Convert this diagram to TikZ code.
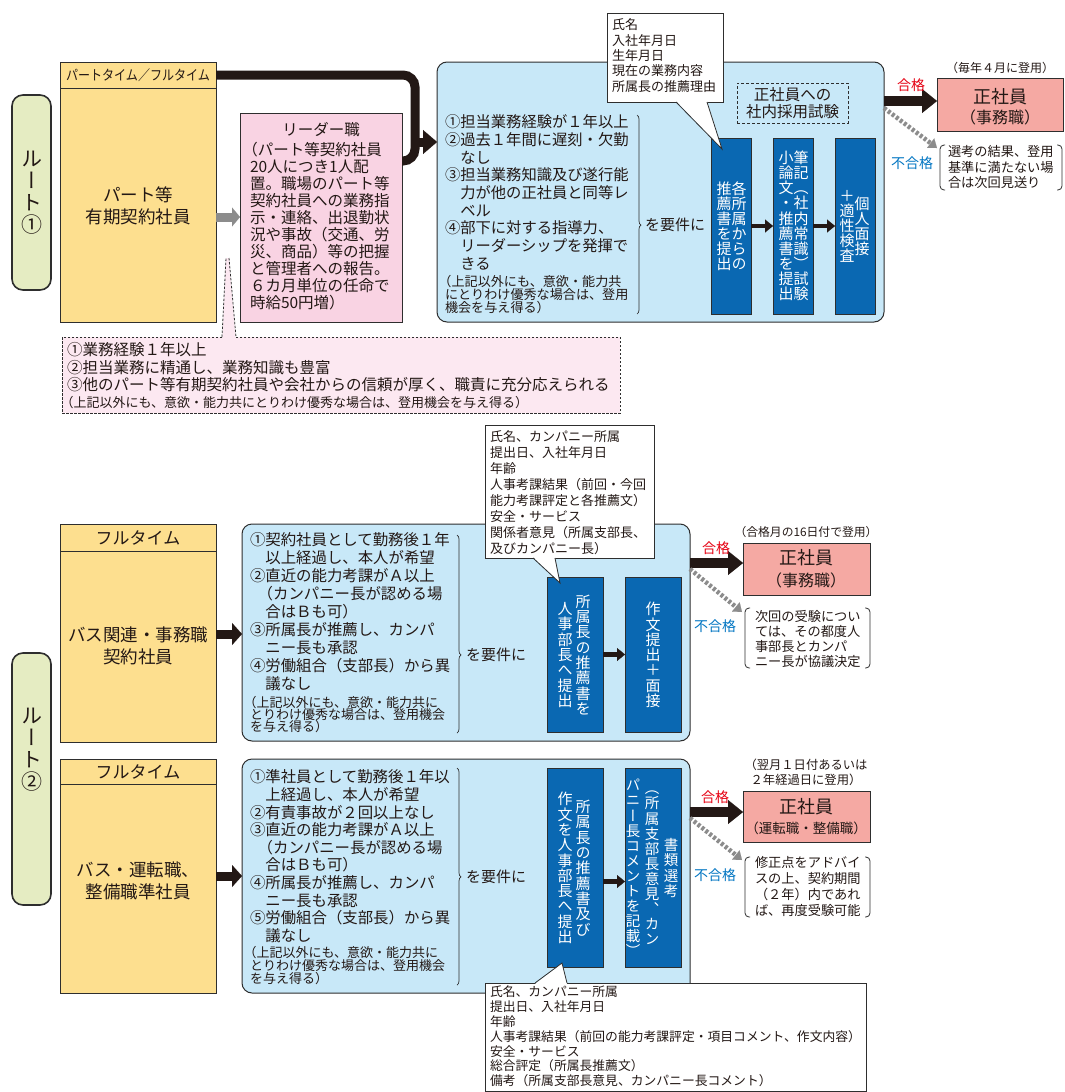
\documentclass[tikz,border=0pt]{standalone}
\usepackage{fontspec}
\usepackage{graphicx}
\setmainfont{Noto Sans CJK JP}
\newfontfamily\vjp[RawFeature=+vert]{Noto Sans CJK JP}
\usetikzlibrary{arrows.meta,decorations.pathreplacing}
\definecolor{ylw}{HTML}{FDDF8F}
\definecolor{pinkA}{HTML}{F9D3E3}
\definecolor{pinkL}{HTML}{FCE8F1}
\definecolor{lblue}{HTML}{C8E8F8}
\definecolor{dblue}{HTML}{0A68B2}
\definecolor{salm}{HTML}{F5A9A3}
\definecolor{grn}{HTML}{E5ECC2}
\definecolor{bd}{HTML}{2E2E2E}
\definecolor{blk}{HTML}{231815}
\definecolor{gryc}{HTML}{8C8C8C}
\definecolor{redc}{HTML}{E60012}
\definecolor{bluc}{HTML}{0075C2}
\makeatletter
\def\vc@end{}
\newcommand\vcol[2][1.0]{\vbox{\vjp\baselineskip=#1em\relax\lineskiplimit=-100pt\lineskip=0pt\vc@loop#2\vc@end}}
\def\vc@loop#1{\ifx#1\vc@end\else\hbox to 1em{\hss#1\hss}\expandafter\vc@loop\fi}
\makeatother
\newcommand\fs[2]{\fontsize{#1}{#2}\selectfont}
\newcommand\lp{\hspace*{-0.5em}（}
\newcommand\bx[6]{\node[#2,anchor=north west,minimum width={(#5)-(#3)},minimum height={(#6)-(#4)}] (#1) at (#3,#4) {};}
\begin{document}
\begin{tikzpicture}[x=1pt,y=-1pt,
  every node/.style={inner sep=0pt,outer sep=0pt,text=blk},
  ybox/.style={draw=bd,fill=ylw,line width=0.9pt},
  lbox/.style={draw=bd,fill=pinkA,line width=0.9pt},
  nbox/.style={draw=bd,fill=pinkL,line width=0.8pt,dash pattern=on 2.5pt off 1.5pt},
  ndash/.style={draw=bd,line width=0.8pt,dash pattern=on 2.5pt off 1.5pt},
  bbox/.style={draw=bd,fill=lblue,line width=1pt,rounded corners=10pt},
  dbb/.style={draw=bd,fill=dblue,line width=0.8pt},
  sbox/.style={draw=bd,fill=salm,line width=0.9pt},
  wbox/.style={draw=bd,fill=white,line width=0.8pt},
  cl/.style={draw=bd,line width=0.8pt},
  dbox/.style={draw=bd,line width=0.9pt,dash pattern=on 3pt off 2pt},
  rlab/.style={draw=bd,fill=grn,line width=1.6pt,rounded corners=11pt},
  vt/.style={text=white,font=\fs{15}{15}},
  blkl/.style={draw=blk,line width=9pt,rounded corners=12pt},
  blkarr/.style={draw=blk,line width=9pt,-{Triangle[length=14pt,width=24pt,line width=0.1pt]}},
  in2/.style={draw=blk,line width=9pt,-{Triangle[length=10pt,width=22pt,line width=0.1pt]}},
  gry/.style={draw=gryc,line width=9pt,-{Triangle[length=8pt,width=19pt,line width=0.1pt]}},
  pass/.style={draw=blk,line width=10pt,-{Triangle[length=15pt,width=24pt,line width=0.1pt]}},
  fail/.style={draw=gryc,line width=4.5pt,dash pattern=on 3pt off 2pt,-{Triangle[length=8pt,width=12pt,line width=0.1pt]}},
  sarr/.style={draw=blk,line width=4.5pt,-{Triangle[length=8pt,width=13pt,line width=0.1pt]}},
  brc/.style={draw=bd,line width=0.7pt,decorate,decoration={brace,amplitude=4pt,aspect=#1}},
  brk/.style={draw=bd,line width=0.8pt,rounded corners=4pt}
]
\useasboundingbox (0,0) rectangle (1065,1092);
\fill[white] (0,0) rectangle (1065,1092);

% ---------------- route labels
\bx{r1}{rlab}{12}{95}{51}{290}
\node[font=\fs{21}{21}] (r1t) at (r1) {\vcol[1.05]{ルート①}};
\bx{r2}{rlab}{12}{653}{51}{905}
\node[font=\fs{21}{21}] (r2t) at (31.5,750) {\vcol[1.05]{ルート②}};

% ================= ROUTE 1
\bx{y1}{ybox}{60}{62}{216}{322}
\bx{hdr1}{ybox}{60}{62}{216}{88}
\node[font=\fs{14}{14}] (hdr1t) at (hdr1) {\scalebox{0.86}[1]{パートタイム／フルタイム}};
\node[font=\fs{17.5}{22},align=center] (y1t) at (138,206) {パート等\\有期契約社員};

\bx{note1}{nbox}{62}{337}{620}{413}
\fill[pinkL] (222.5,338) -- (226,258) -- (229,258) -- (235.5,338) -- cycle;
\draw[ndash] (222,337) -- (226,258);
\draw[ndash] (229,258) -- (236,337);
\node[font=\fs{15.5}{17.5},align=left,anchor=north west] (note1a) at (67,342.7) {①業務経験１年以上\\②担当業務に精通し、業務知識も豊富\\③他のパート等有期契約社員や会社からの信頼が厚く、職責に充分応えられる};
\node[font=\fs{13}{13},anchor=north west] (note1b) at (67,396) {\lp 上記以外にも、意欲・能力共にとりわけ優秀な場合は、登用機会を与え得る）};

\bx{lead}{lbox}{240}{113}{402}{322}
\node[font=\fs{15.5}{15.5}] (leadh) at (321,130) {リーダー職};
\node[font=\fs{15.5}{16.9},align=left,anchor=north west] (leadt) at (250,142.7) {\lp パート等契約社員\\20人につき1人配\\置。職場のパート等\\契約社員への業務指\\示・連絡、出退勤状\\況や事故（交通、労\\災、商品）等の把握\\と管理者への報告。\\６カ月単位の任命で\\時給50円増）};

\bx{blue1}{bbox}{437}{62}{884}{322}
\draw[gry] (y1.east |- 0,217) -- (lead.west |- 0,217);
\coordinate (j1) at (415,161);
\coordinate (j2) at (415,142);
\draw[blkl] (hdr1.east) -| (j1) -- (lead.east |- j1);
\draw[blkarr] (j2) -- (blue1.west |- j2);

\node[font=\fs{15.3}{17.7},align=left,anchor=north west] (req1) at (445,114.8) {①担当業務経験が１年以上\\②過去１年間に遅刻・欠勤\\　なし\\③担当業務知識及び遂行能\\　力が他の正社員と同等レ\\　ベル\\④部下に対する指導力、\\　リーダーシップを発揮で\\　きる};
\node[font=\fs{13.1}{13.2},align=left,anchor=north west] (req1s) at (445,274.8) {\lp 上記以外にも、意欲・能力共\\にとりわけ優秀な場合は、登用\\機会を与え得る）};
\draw[brc=0.553] (637,115) -- (637,314);
\node[font=\fs{15}{15},anchor=west] (cond1) at (645,225) {を要件に};

\bx{a1}{dbb}{711}{138}{751}{314}
\bx{b1}{dbb}{773}{138}{813}{314}
\bx{c1}{dbb}{835}{138}{875}{314}
\node[vt] (a1l) at (724,226) {\vcol{推薦書を提出}};
\node[vt] (a1r) at (739,226) {\vcol{各所属からの}};
\node[vt] (b1l) at (786,226) {\vcol[1.01]{小論文・推薦書を提出}};
\node[vt] (b1r) at (801,226) {\vcol[1.01]{筆記（社内常識）試験}};
\node[vt] (c1l) at (847,226) {\vcol{＋適性検査}};
\node[vt] (c1r) at (862,226) {\vcol{個人面接}};
\draw[sarr] (a1) -- (b1);
\draw[sarr] (b1) -- (c1);

\bx{call1}{wbox}{607}{13}{723}{102}
\fill[white] (676,101) -- (722,149) -- (707,101) -- cycle;
\draw[cl] (676,102) -- (722,149) -- (707,102);
\node[font=\fs{13}{15.3},align=left,anchor=north west] (call1t) at (612,18.9) {氏名\\入社年月日\\生年月日\\現在の業務内容\\所属長の推薦理由};

\bx{test1}{dbox}{737}{83}{848}{123}
\node[font=\fs{15.5}{17},align=center] (test1t) at (test1) {正社員への\\社内採用試験};

\node[font=\fs{12}{12}] (when1) at (1000,68) {（毎年４月に登用）};
\bx{sal1}{sbox}{937}{78}{1063}{131}
\node[font=\fs{18}{18}] (sal1a) at (1000,97) {正社員};
\node[font=\fs{16}{16}] (sal1b) at (1000,117) {（事務職）};
\draw[pass] (blue1.east |- 0,101) -- (sal1.west |- 0,101);
\node[font=\fs{14}{14},text=redc] (ok1) at (911,85) {合格};
\coordinate (f1) at (937,148);
\draw[fail] (blue1.east |- 0,108) -- (f1);
\node[font=\fs{14}{14},text=bluc] (ng1) at (912,163) {不合格};
\draw[brk] (945,145) -- (940,145) -- (940,190) -- (945,190);
\draw[brk] (1057,145) -- (1062,145) -- (1062,190) -- (1057,190);
\node[font=\fs{13.2}{15.5},align=left,anchor=north west] (ng1t) at (948,145.8) {選考の結果、登用\\基準に満たない場\\合は次回見送り};

% ================= ROUTE 2a
\bx{y2}{ybox}{60}{524}{216}{742}
\bx{hdr2}{ybox}{60}{524}{216}{551}
\node[font=\fs{17}{17}] (hdr2t) at (hdr2) {フルタイム};
\node[font=\fs{17.5}{22},align=center] (y2t) at (138,646) {バス関連・事務職\\契約社員};
\bx{blue2}{bbox}{242}{524}{690}{741}
\draw[in2] (y2.east |- 0,634) -- (blue2.west |- 0,634);
\node[font=\fs{15.4}{17.9},align=left,anchor=north west] (req2) at (250,532.8) {①契約社員として勤務後１年\\　以上経過し、本人が希望\\②直近の能力考課がＡ以上\\　\lp カンパニー長が認める場\\　合はＢも可）\\③所属長が推薦し、カンパ\\　ニー長も承認\\④労働組合（支部長）から異\\　議なし};
\node[font=\fs{13}{12.4},align=left,anchor=north west] (req2s) at (250,695.9) {\lp 上記以外にも、意欲・能力共に\\とりわけ優秀な場合は、登用機会\\を与え得る）};
\draw[brc=0.606] (457,535) -- (457,733);
\node[font=\fs{15}{15},anchor=west] (cond2) at (466,655) {を要件に};
\bx{a2}{dbb}{547}{577}{603}{732}
\bx{b2}{dbb}{625}{577}{681}{732}
\node[vt] (a2l) at (565,655) {\vcol[1.02]{人事部長へ提出}};
\node[vt] (a2r) at (583,655) {\vcol[1.02]{所属長の推薦書を}};
\node[vt] (b2c) at (653,655) {\vcol[1.02]{作文提出＋面接}};
\draw[sarr] (a2) -- (b2);

\bx{call2}{wbox}{485}{425}{654}{558}
\fill[white] (533,557) -- (560,583) -- (555,557) -- cycle;
\draw[cl] (533,558) -- (560,583) -- (555,558);
\node[font=\fs{13}{16},align=left,anchor=north west] (call2t) at (490,431) {氏名、カンパニー所属\\提出日、入社年月日\\年齢\\人事考課結果（前回・今回\\能力考課評定と各推薦文）\\安全・サービス\\関係者意見（所属支部長、\\及びカンパニー長）};

\node[font=\fs{11.8}{11.8}] (when2) at (806,532) {（合格月の16日付で登用）};
\bx{sal2}{sbox}{743}{543}{870}{595}
\node[font=\fs{18}{18}] (sal2a) at (806,558) {正社員};
\node[font=\fs{16}{16}] (sal2b) at (806,580) {（事務職）};
\draw[pass] (blue2.east |- 0,563) -- (sal2.west |- 0,563);
\node[font=\fs{14}{14},text=redc] (ok2) at (716,548) {合格};
\coordinate (f2) at (742,612);
\draw[fail] (blue2.east |- 0,569) -- (f2);
\node[font=\fs{14}{14},text=bluc] (ng2) at (715,626) {不合格};
\draw[brk] (750,608) -- (745,608) -- (745,668) -- (750,668);
\draw[brk] (865,608) -- (870,608) -- (870,668) -- (865,668);
\node[font=\fs{13.2}{15},align=left,anchor=north west] (ng2t) at (755,610.8) {次回の受験につい\\ては、その都度人\\事部長とカンパ\\ニー長が協議決定};

% ================= ROUTE 2b
\bx{y3}{ybox}{60}{759}{216}{993}
\bx{hdr3}{ybox}{60}{759}{216}{784}
\node[font=\fs{17}{17}] (hdr3t) at (hdr3) {フルタイム};
\node[font=\fs{17.5}{22},align=center] (y3t) at (138,881) {バス・運転職、\\整備職準社員};
\bx{blue3}{bbox}{242}{759}{690}{993}
\draw[in2] (y3.east |- 0,876) -- (blue3.west |- 0,876);
\node[font=\fs{15.4}{17.6},align=left,anchor=north west] (req3) at (250,769.8) {①準社員として勤務後１年以\\　上経過し、本人が希望\\②有責事故が２回以上なし\\③直近の能力考課がＡ以上\\　\lp カンパニー長が認める場\\　合はＢも可）\\④所属長が推薦し、カンパ\\　ニー長も承認\\⑤労働組合（支部長）から異\\　議なし};
\node[font=\fs{13}{13},align=left,anchor=north west] (req3s) at (250,945.9) {\lp 上記以外にも、意欲・能力共に\\とりわけ優秀な場合は、登用機会\\を与え得る）};
\draw[brc=0.502] (457,768) -- (457,985);
\node[font=\fs{15}{15},anchor=west] (cond3) at (466,877) {を要件に};
\bx{a3}{dbb}{547}{768}{603}{967}
\bx{b3}{dbb}{625}{768}{681}{967}
\node[vt] (a3l) at (565,868) {\vcol[1.02]{作文を人事部長へ提出}};
\node[vt] (a3r) at (583,868) {\vcol[1.02]{所属長の推薦書及び}};
\node[vt,font=\fs{14.5}{14.5}] (b3l) at (633,868) {\vcol[1.04]{パニー長コメントを記載）}};
\node[vt,font=\fs{14.5}{14.5}] (b3m) at (652,868) {\vcol[1.04]{（所属支部長意見、カン}};
\node[vt,font=\fs{14.5}{14.5}] (b3r) at (671,868) {\vcol[1.04]{書類選考}};
\draw[sarr] ([yshift=-14pt]a3.east) -- ([yshift=-14pt]b3.west);

\bx{call3}{wbox}{485}{983}{866}{1091}
\fill[white] (535,984) -- (562,963) -- (567,984) -- cycle;
\draw[cl] (535,983) -- (562,963) -- (567,983);
\node[font=\fs{12.8}{14.8},align=left,anchor=north west] (call3t) at (490,986) {氏名、カンパニー所属\\提出日、入社年月日\\年齢\\人事考課結果（前回の能力考課評定・項目コメント、作文内容）\\安全・サービス\\総合評定（所属長推薦文）\\備考（所属支部長意見、カンパニー長コメント）};

\node[font=\fs{12.3}{15},align=center] (when3) at (806,772.5) {（翌月１日付あるいは\\２年経過日に登用）};
\bx{sal3}{sbox}{743}{791}{870}{842}
\node[font=\fs{18}{18}] (sal3a) at (806,807) {正社員};
\node[font=\fs{13.5}{13.5}] (sal3b) at (806,828) {（運転職・整備職）};
\draw[pass] (blue3.east |- 0,812) -- (sal3.west |- 0,812);
\node[font=\fs{14}{14},text=redc] (ok3) at (715,797) {合格};
\coordinate (f3) at (742,860);
\draw[fail] (blue3.east |- 0,818) -- (f3);
\node[font=\fs{14}{14},text=bluc] (ng3) at (715,875) {不合格};
\draw[brk] (750,857) -- (745,857) -- (745,917) -- (750,917);
\draw[brk] (865,857) -- (870,857) -- (870,917) -- (865,917);
\node[font=\fs{13.2}{16},align=left,anchor=north west] (ng3t) at (755,856.8) {修正点をアドバイ\\スの上、契約期間\\（２年）内であれ\\ば、再度受験可能};
\end{tikzpicture}
\end{document}
